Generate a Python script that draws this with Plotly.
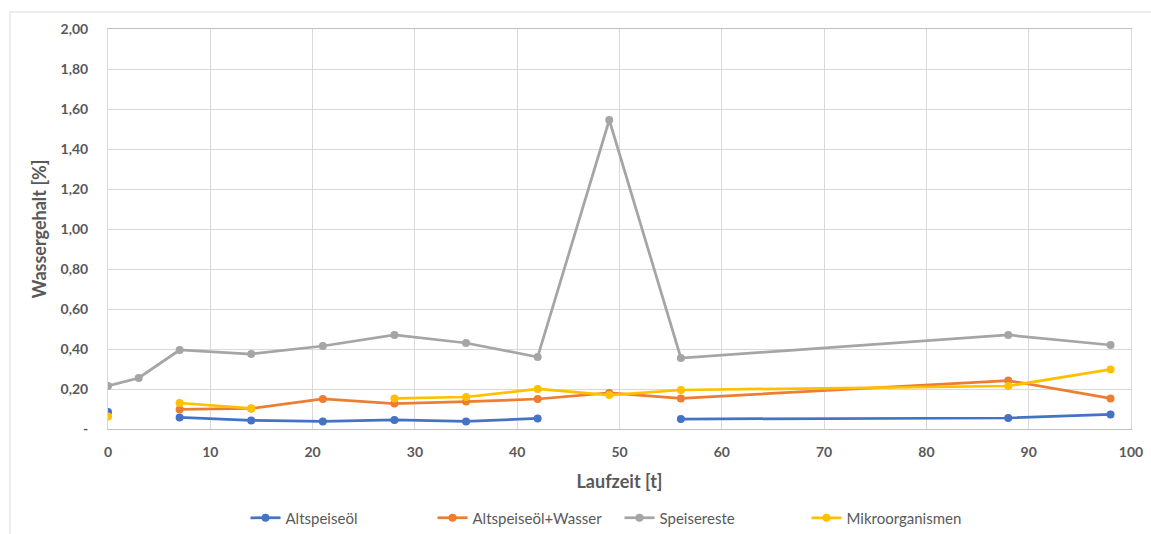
import plotly.graph_objects as go

# Sampling days (Laufzeit in Tagen)
laufzeit = [0, 3, 7, 14, 21, 28, 35, 42, 49, 56, 88, 98]

# Water content per series in %, None = no measurement
altspeiseoel = [0.085, None, 0.058, 0.043, 0.038, 0.045, 0.038, 0.053, None, 0.050, 0.055, 0.073]
altspeiseoel_wasser = [None, None, 0.098, 0.103, 0.150, 0.127, 0.137, 0.150, 0.180, 0.153, 0.242, 0.153]
speisereste = [0.215, 0.255, 0.395, 0.375, 0.415, 0.470, 0.430, 0.360, 1.545, 0.355, 0.470, 0.420]
mikroorganismen = [0.062, None, 0.130, 0.103, None, 0.153, 0.160, 0.200, 0.170, 0.195, 0.215, 0.298]

series_names = ["Altspeiseöl", "Altspeiseöl+Wasser", "Speisereste", "Mikroorganismen"]
series_colors = ["#4472C4", "#ED7D31", "#A5A5A5", "#FFC000"]

y_tickvals = [0, 0.2, 0.4, 0.6, 0.8, 1.0, 1.2, 1.4, 1.6, 1.8, 2.0]
y_ticktext = ["-", "0,20", "0,40", "0,60", "0,80", "1,00", "1,20", "1,40", "1,60", "1,80", "2,00"]
x_tickvals = [0, 10, 20, 30, 40, 50, 60, 70, 80, 90, 100]

FONT = "Lato"
TXT = "#595959"
GRID = "#D9D9D9"

fig = go.Figure()
for name, values, color in zip(series_names,
                                [altspeiseoel, altspeiseoel_wasser, speisereste, mikroorganismen],
                                series_colors):
    fig.add_trace(go.Scatter(
        x=laufzeit, y=values, name=name, mode="lines+markers",
        connectgaps=False,
        line=dict(color=color, width=2.75),
        marker=dict(color=color, size=8),
    ))

fig.update_layout(
    width=1151, height=534,
    margin=dict(l=108, r=20, t=29, b=105, autoexpand=False),
    paper_bgcolor="white", plot_bgcolor="white",
    font=dict(family=FONT, color=TXT, size=13),
    showlegend=True,
    legend=dict(
        orientation="h", x=0.5, xanchor="center", y=-0.2225, yanchor="middle",
        font=dict(family=FONT, size=15, color=TXT),
        itemwidth=30, traceorder="normal",
        entrywidth=142, entrywidthmode="pixels",
    ),
    xaxis=dict(
        range=[0, 100], tickvals=x_tickvals, ticks="outside", ticklen=10,
        tickcolor="rgba(0,0,0,0)", automargin=False,
        tickfont=dict(family=FONT, size=14, color=TXT, weight="bold"),
        showgrid=True, gridcolor=GRID, gridwidth=1,
        showline=True, linecolor="#BFBFBF", linewidth=1, mirror=True,
        zeroline=False,
        title=dict(text="Laufzeit [t]", font=dict(family=FONT, size=18, color=TXT, weight="bold"),
                   standoff=16),
    ),
    yaxis=dict(
        range=[0, 2.0], tickvals=y_tickvals, ticktext=y_ticktext,
        ticks="outside", ticklen=16, tickcolor="rgba(0,0,0,0)", automargin=False,
        tickfont=dict(family=FONT, size=14, color=TXT, weight="bold"),
        showgrid=True, gridcolor=GRID, gridwidth=1,
        showline=True, linecolor=GRID, linewidth=1, mirror=True,
        zeroline=False,
        title=dict(text="Wassergehalt [%]", font=dict(family=FONT, size=18, color=TXT, weight="bold"),
                   standoff=9),
    ),
    shapes=[dict(
        type="rect", xref="paper", yref="paper",
        x0=-0.0958, x1=1.05, y0=-0.5, y1=1.0425,
        line=dict(color="#D9D9D9", width=1), fillcolor="rgba(0,0,0,0)", layer="below",
    )],
)

fig.write_html("out.html")
